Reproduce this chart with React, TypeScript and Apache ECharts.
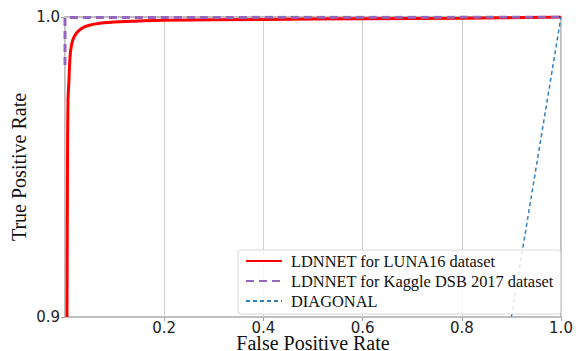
import React, { useEffect, useRef } from "react";
import * as echarts from "echarts";

const xTicks = [0, 0.2, 0.4, 0.6, 0.8, 1.0];
const yTicks = [0.9, 1.0];

const lunaFpr = [0.004, 0.005, 0.006, 0.008, 0.0095, 0.0115, 0.016, 0.0236, 0.032, 0.0437, 0.07, 0.111, 0.2, 0.4, 0.6, 0.8, 1.0];
const lunaTpr = [0.9, 0.95, 0.972, 0.979, 0.985, 0.989, 0.9925, 0.9947, 0.996, 0.997, 0.9979, 0.9984, 0.9989, 0.9992, 0.9994, 0.9996, 1.0];

const kaggleFpr = [0.0, 0.0, 0.002, 1.0];
const kaggleTpr = [0.984, 0.9997, 0.9998, 1.0];

const diagFpr = [0.0, 1.0];
const diagTpr = [0.0, 1.0];

const seriesNames = [
  "LDNNET for LUNA16 dataset",
  "LDNNET for Kaggle DSB 2017 dataset",
  "DIAGONAL",
];

const zip = (xs: number[], ys: number[]) => xs.map((x, i) => [x, ys[i]]);

export default function App() {
  const ref = useRef<HTMLDivElement>(null);
  useEffect(() => {
    if (!ref.current) return;
    const chart = echarts.init(ref.current, undefined, { renderer: "svg" });
    const serif = "'Liberation Serif', 'Times New Roman', serif";
    const sans = "'DejaVu Sans', sans-serif";
    chart.setOption({
      animation: false,
      backgroundColor: "#fff",
      grid: {
        left: 65,
        right: 15,
        top: 17,
        bottom: 34,
        outerBoundsMode: "none",
        containLabel: false,
        show: true,
        borderColor: "#aaaaaa",
        borderWidth: 1.5,
        backgroundColor: "transparent",
      },
      legend: {
        orient: "vertical",
        left: 238,
        top: 250,
        padding: [3, 7, 5, 7],
        itemWidth: 36,
        itemHeight: 12,
        itemGap: 4,
        backgroundColor: "rgba(255,255,255,0.85)",
        borderColor: "#d8d8d8",
        borderWidth: 1,
        borderRadius: 3,
        itemStyle: { opacity: 0 },
        data: seriesNames,
        textStyle: { fontFamily: serif, fontSize: 16.4, color: "#111", padding: [0, 0, 0, 4] },
      },
      xAxis: {
        type: "value",
        min: xTicks[0],
        max: xTicks[xTicks.length - 1],
        interval: 0.2,
        name: "False Positive Rate",
        nameLocation: "middle",
        nameGap: 19,
        nameMoveOverlap: false,
        nameTextStyle: { fontFamily: serif, fontSize: 20, lineHeight: 14, color: "#111" },
        axisLine: { show: false },
        axisTick: { show: true, length: 4, lineStyle: { color: "#aaaaaa", width: 1.2 } },
        axisLabel: {
          showMinLabel: false,
          margin: 4,
          fontFamily: sans,
          fontSize: 15,
          lineHeight: 13,
          color: "#222",
          formatter: (v: number) => v.toFixed(1),
        },
        splitLine: { show: true, lineStyle: { color: "#d0d0d0", width: 1 } },
      },
      yAxis: {
        type: "value",
        min: yTicks[0],
        max: yTicks[yTicks.length - 1],
        interval: 0.1,
        name: "True Positive Rate",
        nameLocation: "middle",
        nameGap: 36,
        nameMoveOverlap: false,
        nameTextStyle: { fontFamily: serif, fontSize: 20, color: "#111" },
        axisLine: { show: false },
        axisTick: { show: true, length: 4, lineStyle: { color: "#aaaaaa", width: 1.2 } },
        axisLabel: {
          margin: 5,
          fontFamily: sans,
          fontSize: 15,
          color: "#222",
          formatter: (v: number) => v.toFixed(1),
        },
        splitLine: { show: false },
      },
      series: [
        {
          name: seriesNames[0],
          type: "line",
          data: zip(lunaFpr, lunaTpr),
          symbol: "none",
          smooth: 0.3,
          lineStyle: { color: "#ff0000", width: 3 },
          itemStyle: { color: "#ff0000" },
          clip: true,
          z: 2,
        },
        {
          name: seriesNames[1],
          type: "line",
          data: zip(kaggleFpr, kaggleTpr),
          symbol: "none",
          lineStyle: { color: "#9467bd", width: 3, type: [8, 5] },
          itemStyle: { color: "#9467bd" },
          clip: true,
          z: 3,
        },
        {
          name: seriesNames[2],
          type: "line",
          data: zip(diagFpr, diagTpr),
          symbol: "none",
          lineStyle: { color: "#2f7fc1", width: 1.5, type: [4, 3] },
          itemStyle: { color: "#5a9fd4" },
          clip: true,
          z: 3,
        },
      ],
    });
    return () => chart.dispose();
  }, []);
  return <div ref={ref} style={{ width: 576, height: 351, position: "absolute", left: 0, top: 0 }} />;
}
